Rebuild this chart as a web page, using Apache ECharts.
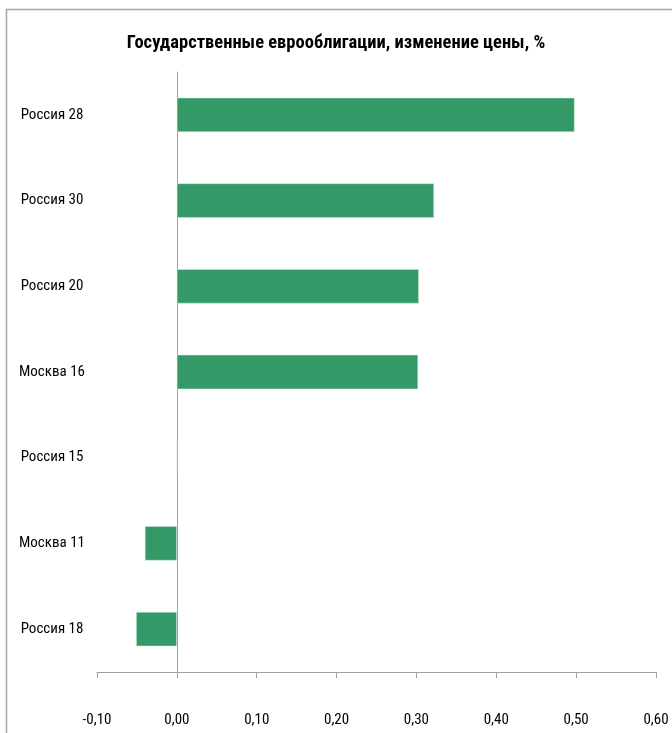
<!DOCTYPE html>
<html><head><meta charset="utf-8">
<script src="https://cdn.jsdelivr.net/npm/echarts@6/dist/echarts.min.js"></script>
<style>html,body{margin:0;padding:0;background:#fff}#c{width:672px;height:733px}</style>
</head><body><div id="c"></div>
<script>
var categories = ['Россия 28','Россия 30','Россия 20','Москва 16','Россия 15','Москва 11','Россия 18'];
var values = [0.498, 0.322, 0.303, 0.302, 0, -0.040, -0.051];
var titleText = 'Государственные еврооблигации, изменение цены, %';
var FONT = '"Liberation Sans Narrow", "Roboto Condensed", "DejaVu Sans Condensed", sans-serif';
var chart = echarts.init(document.getElementById('c'));
chart.setOption({
  animation: false,
  backgroundColor: '#fff',
  title: {text: titleText, left: 'center', top: 29,
    textStyle: {fontFamily: FONT, fontSize: 18.5, fontWeight: 'bold', color: '#000'}},
  graphic: [
    {type: 'polyline', shape: {points: [[6.5, 740], [6.5, 9.5], [680, 9.5]]},
     style: {stroke: '#a6a6a6', lineWidth: 1.5, fill: null}, silent: true}
  ],
  grid: {left: 97, right: 16, top: 72, bottom: 61, containLabel: false, outerBoundsMode: 'none'},
  xAxis: {type: 'value', min: -0.1, max: 0.6, interval: 0.1,
    axisLine: {show: true, onZero: false, lineStyle: {color: '#a0a0a0'}},
    axisTick: {show: true, length: 6, lineStyle: {color: '#a0a0a0'}},
    splitLine: {show: false},
    axisLabel: {margin: 41, fontFamily: FONT, fontSize: 15, color: '#000',
      formatter: function(v){ return v.toFixed(2).replace('.', ','); }}},
  yAxis: {type: 'category', data: categories, inverse: true,
    axisLine: {show: true, onZero: true, lineStyle: {color: '#a0a0a0'}},
    axisTick: {show: false},
    axisLabel: {align: 'center', margin: 45, padding: [3, 0, 0, 0], fontFamily: FONT, fontSize: 15, color: '#000'}},
  series: [{type: 'bar', data: values, barCategoryGap: '60%',
    itemStyle: {color: '#339966', borderColor: '#d8eee2', borderWidth: 0.5}}]
});
</script></body></html>
